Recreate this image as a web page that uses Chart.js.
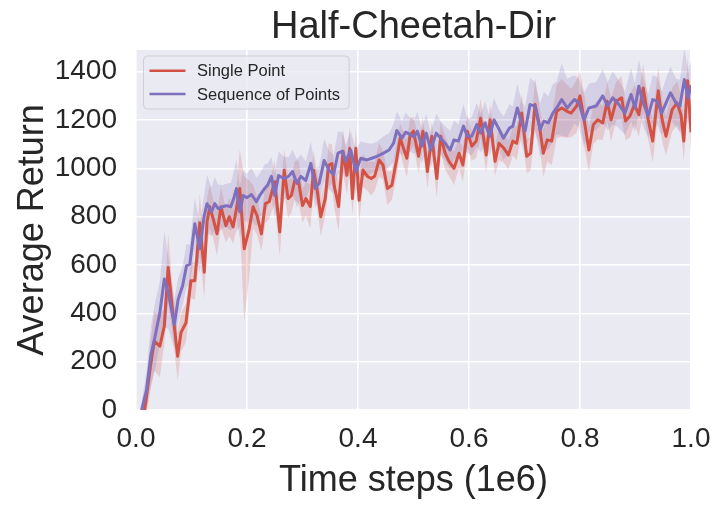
<!DOCTYPE html>
<html>
<head>
<meta charset="utf-8">
<script src="https://cdn.jsdelivr.net/npm/chart.js@4.4.1/dist/chart.umd.min.js"></script>
<style>
  html, body { margin: 0; padding: 0; background: #fff; }
  #wrap { width: 726px; height: 508px; position: relative; }
</style>
</head>
<body>
<div id="wrap"><canvas id="myChart"></canvas></div>
<script>
// series names and colours
const seriesNames = ['Single Point', 'Sequence of Points'];
const lineColors = ['rgb(212, 82, 68)', 'rgb(127, 112, 190)'];
const bandColors = ['rgba(212, 82, 68, 0.2)', 'rgba(127, 112, 190, 0.2)'];

// x ticks / y ticks
const xTicks = [0, 0.2, 0.4, 0.6, 0.8, 1.0];
const yTicks = [0, 200, 400, 600, 800, 1000, 1200, 1400];

// Single Point: time steps (1e6), mean return, band half width
const redT = [
  0.010, 0.018, 0.026, 0.033, 0.043, 0.051, 0.058, 0.065, 0.075, 0.081,
  0.090, 0.099, 0.106, 0.115, 0.123, 0.128, 0.133, 0.139, 0.146, 0.153,
  0.162, 0.168, 0.175, 0.181, 0.187, 0.195, 0.204, 0.211, 0.218, 0.226,
  0.233, 0.240, 0.250, 0.259, 0.267, 0.274, 0.280, 0.286, 0.293, 0.300,
  0.306, 0.314, 0.320, 0.326, 0.333, 0.341, 0.347, 0.353, 0.357, 0.365,
  0.373, 0.380, 0.385, 0.390, 0.396, 0.402, 0.409, 0.417, 0.424, 0.430,
  0.438, 0.445, 0.453, 0.461, 0.470, 0.476, 0.482, 0.488, 0.494, 0.500,
  0.509, 0.517, 0.525, 0.533, 0.542, 0.549, 0.557, 0.564, 0.573, 0.582,
  0.589, 0.597, 0.605, 0.613, 0.621, 0.631, 0.638, 0.647, 0.654, 0.663,
  0.671, 0.679, 0.686, 0.695, 0.704, 0.711, 0.719, 0.727, 0.734, 0.741,
  0.749, 0.758, 0.767, 0.777, 0.784, 0.794, 0.800, 0.807, 0.816, 0.824,
  0.832, 0.841, 0.849, 0.856, 0.865, 0.875, 0.882, 0.890, 0.898, 0.906,
  0.914, 0.923, 0.931, 0.941, 0.948, 0.955, 0.966, 0.975, 0.982, 0.987,
  0.994, 1.000
];
const redMean = [
  -80, 40, 180, 285, 264, 347, 590, 430, 222, 320,
  361, 535, 535, 775, 570, 779, 841, 792, 729, 841,
  763, 800, 758, 833, 917, 667, 750, 841, 805, 729,
  854, 862, 945, 737, 992, 875, 888, 950, 945, 846,
  875, 842, 992, 917, 800, 875, 1013, 1020, 930, 842,
  1071, 972, 1083, 875, 1083, 868, 993, 967, 958, 967,
  1035, 1014, 917, 930, 1042, 1125, 1083, 1042, 1139, 1154,
  1050, 1154, 987, 1133, 958, 1133, 1063, 1029, 1000, 1063,
  1014, 1154, 1092, 1113, 1208, 1055, 1201, 1029, 1104, 1083,
  1055, 1113, 1104, 1229, 1050, 1063, 1264, 1175, 1063, 1118,
  1113, 1236, 1250, 1236, 1229, 1258, 1300, 1208, 1076, 1181,
  1201, 1188, 1278, 1201, 1278, 1292, 1196, 1217, 1264, 1222,
  1333, 1201, 1113, 1321, 1201, 1133, 1243, 1271, 1222, 1113,
  1363, 1150
];
const redSpread = [
  40, 70, 100, 120, 130, 70, 140, 100, 100, 80,
  80, 70, 80, 120, 110, 100, 90, 80, 90, 80,
  70, 80, 70, 90, 160, 300, 200, 90, 80, 70,
  80, 70, 90, 100, 90, 80, 70, 80, 90, 70,
  70, 90, 80, 70, 80, 70, 90, 80, 90, 100,
  90, 80, 90, 70, 80, 90, 70, 60, 70, 60,
  70, 60, 70, 60, 70, 60, 70, 80, 70, 60,
  70, 60, 70, 60, 80, 60, 70, 60, 70, 60,
  70, 70, 60, 70, 80, 70, 70, 60, 70, 60,
  60, 60, 70, 80, 70, 70, 110, 80, 100, 90,
  100, 110, 120, 110, 100, 110, 100, 110, 90, 80,
  80, 70, 80, 90, 80, 90, 80, 90, 80, 90,
  100, 80, 90, 100, 90, 80, 90, 90, 80, 80,
  100, 90
];

// Sequence of Points: time steps (1e6), mean return, band half width
const purpleT = [
  0.010, 0.019, 0.027, 0.034, 0.043, 0.051, 0.058, 0.069, 0.076, 0.084,
  0.091, 0.097, 0.106, 0.115, 0.123, 0.128, 0.136, 0.142, 0.148, 0.156,
  0.163, 0.171, 0.177, 0.181, 0.187, 0.193, 0.200, 0.208, 0.217, 0.223,
  0.232, 0.237, 0.244, 0.250, 0.257, 0.266, 0.275, 0.282, 0.290, 0.297,
  0.306, 0.315, 0.323, 0.330, 0.339, 0.348, 0.356, 0.364, 0.372, 0.378,
  0.387, 0.396, 0.405, 0.416, 0.425, 0.434, 0.446, 0.456, 0.464, 0.470,
  0.479, 0.486, 0.494, 0.501, 0.507, 0.515, 0.523, 0.531, 0.541, 0.549,
  0.557, 0.566, 0.573, 0.581, 0.590, 0.597, 0.605, 0.614, 0.621, 0.629,
  0.637, 0.645, 0.653, 0.662, 0.673, 0.679, 0.687, 0.695, 0.701, 0.710,
  0.719, 0.728, 0.735, 0.743, 0.751, 0.758, 0.767, 0.777, 0.784, 0.790,
  0.798, 0.807, 0.816, 0.829, 0.841, 0.850, 0.859, 0.868, 0.881, 0.892,
  0.899, 0.906, 0.914, 0.923, 0.931, 0.939, 0.947, 0.955, 0.963, 0.973,
  0.980, 0.988, 0.995, 1.000
];
const purpleMean = [
  0, 83, 229, 300, 403, 542, 486, 354, 458, 514,
  597, 604, 771, 667, 805, 854, 820, 854, 833, 841,
  846, 841, 883, 917, 820, 888, 879, 892, 862, 888,
  917, 930, 967, 888, 971, 958, 967, 987, 938, 967,
  950, 1021, 917, 938, 1033, 992, 975, 1063, 1071, 1029,
  1076, 987, 1042, 1035, 1042, 1050, 1063, 1076, 1104, 1157,
  1125, 1150, 1140, 1130, 1154, 1092, 1146, 1076, 1146, 1125,
  1104, 1076, 1118, 1113, 1175, 1133, 1133, 1181, 1146, 1188,
  1133, 1201, 1167, 1125, 1167, 1175, 1250, 1188, 1154, 1264,
  1258, 1160, 1196, 1188, 1229, 1250, 1285, 1250, 1270, 1285,
  1271, 1201, 1250, 1258, 1300, 1258, 1292, 1271, 1229, 1306,
  1250, 1340, 1271, 1217, 1285, 1278, 1229, 1271, 1313, 1271,
  1258, 1368, 1290, 1345
];
const purpleSpread = [
  30, 80, 120, 140, 130, 200, 150, 100, 90, 80,
  90, 80, 110, 100, 90, 120, 100, 110, 100, 90,
  90, 100, 110, 120, 110, 100, 100, 110, 100, 90,
  100, 90, 80, 90, 100, 90, 80, 90, 100, 90,
  80, 90, 80, 70, 90, 80, 80, 90, 80, 70,
  80, 90, 70, 70, 60, 60, 70, 70, 80, 80,
  70, 80, 70, 70, 80, 70, 80, 70, 80, 70,
  70, 80, 80, 70, 90, 70, 80, 90, 80, 90,
  80, 90, 80, 90, 100, 80, 100, 90, 100, 110,
  100, 110, 120, 110, 120, 110, 150, 120, 110, 100,
  100, 110, 100, 100, 110, 100, 110, 100, 90, 110,
  100, 110, 100, 90, 100, 100, 90, 100, 110, 100,
  110, 130, 110, 100
];

const INK = '#262626';
Chart.defaults.font.family = '"Liberation Sans", Arial, sans-serif';
Chart.defaults.color = INK;

function pts(ts, ys) {
  return ts.map((t, i) => ({ x: t, y: ys[i] }));
}
function band(ts, mean, spread, sign) {
  return ts.map((t, i) => ({ x: t, y: mean[i] + sign * spread[i] }));
}

const bandStyle = { pointRadius: 0, borderWidth: 0, tension: 0 };
const lineStyle = { pointRadius: 0, borderWidth: 3, tension: 0, borderJoinStyle: 'round', fill: false };

const datasets = [
  { ...bandStyle, label: 'lo0', data: band(redT, redMean, redSpread, -1), fill: false, order: 5 },
  { ...bandStyle, label: 'hi0', data: band(redT, redMean, redSpread, 1), fill: 0, backgroundColor: bandColors[0], order: 4 },
  { ...bandStyle, label: 'lo1', data: band(purpleT, purpleMean, purpleSpread, -1), fill: false, order: 3 },
  { ...bandStyle, label: 'hi1', data: band(purpleT, purpleMean, purpleSpread, 1), fill: 2, backgroundColor: bandColors[1], order: 2 },
  { ...lineStyle, label: seriesNames[0], data: pts(redT, redMean), borderColor: lineColors[0], order: 1 },
  { ...lineStyle, label: seriesNames[1], data: pts(purpleT, purpleMean), borderColor: lineColors[1], order: 0 },
];

// seaborn-like grey plot background
const plotBg = {
  id: 'plotBg',
  beforeDraw(chart) {
    const { ctx, chartArea: a } = chart;
    ctx.save();
    ctx.fillStyle = '#EAEAF2';
    ctx.fillRect(a.left, a.top, a.width, a.height);
    ctx.restore();
  }
};

// legend box in the upper left of the plot
const boxLegend = {
  id: 'boxLegend',
  afterDatasetsDraw(chart) {
    const { ctx, chartArea: a } = chart;
    ctx.save();
    ctx.font = '16.5px "Liberation Sans", Arial, sans-serif';
    const tw = Math.max(...seriesNames.map(s => ctx.measureText(s).width));
    const x = a.left + 7.5, y = a.top + 6, w = 53.5 + tw + 9, h = 53;
    ctx.beginPath();
    ctx.roundRect(x, y, w, h, 4);
    ctx.fillStyle = 'rgba(234, 234, 242, 0.8)';
    ctx.fill();
    ctx.strokeStyle = '#CFCFD4';
    ctx.lineWidth = 1;
    ctx.stroke();
    seriesNames.forEach((name, i) => {
      const cy = y + 14.7 + i * 23.3;
      ctx.beginPath();
      ctx.moveTo(x + 6, cy);
      ctx.lineTo(x + 42, cy);
      ctx.strokeStyle = lineColors[i];
      ctx.lineWidth = 2.5;
      ctx.stroke();
      ctx.fillStyle = INK;
      ctx.textBaseline = 'middle';
      ctx.fillText(name, x + 53.5, cy + 1);
    });
    ctx.restore();
  }
};

const config = {
  type: 'line',
  data: { datasets },
  options: {
    responsive: true,
    maintainAspectRatio: false,
    animation: false,
    layout: { padding: { left: 0, right: 35, top: 0, bottom: 0 } },
    plugins: {
      legend: { display: false },
      tooltip: { enabled: false },
      title: {
        display: true,
        text: 'Half-Cheetah-Dir',
        fullSize: false,
        color: INK,
        font: { size: 38, weight: 'normal', lineHeight: 1.2 },
        padding: { top: 4.4, bottom: 0 }
      }
    },
    scales: {
      x: {
        type: 'linear',
        min: 0,
        max: 1,
        afterBuildTicks: s => { s.ticks = xTicks.map(v => ({ value: v })); },
        afterFit: s => { s.height = 98; },
        ticks: {
          color: INK,
          font: { size: 28 },
          padding: 12,
          maxRotation: 0,
          callback: v => v.toFixed(1)
        },
        grid: { color: '#FFFFFF', lineWidth: 1.6, drawTicks: false },
        border: { display: false },
        title: {
          display: true,
          text: 'Time steps (1e6)',
          color: INK,
          font: { size: 36, lineHeight: 1.2 },
          padding: { top: 0, bottom: 5 }
        }
      },
      y: {
        min: 0,
        max: 1490,
        afterBuildTicks: s => { s.ticks = yTicks.map(v => ({ value: v })); },
        afterFit: s => { s.width = 136; },
        ticks: {
          color: INK,
          font: { size: 28 },
          padding: 19,
          callback: v => String(v)
        },
        grid: { color: '#FFFFFF', lineWidth: 1.6, drawTicks: false },
        border: { display: false },
        title: {
          display: true,
          text: 'Average Return',
          color: INK,
          font: { size: 36, lineHeight: 1.2 },
          padding: { top: 11, bottom: 0 }
        }
      }
    }
  },
  plugins: [plotBg, boxLegend]
};

const myChart = new Chart(document.getElementById('myChart'), config);
</script>
</body>
</html>
